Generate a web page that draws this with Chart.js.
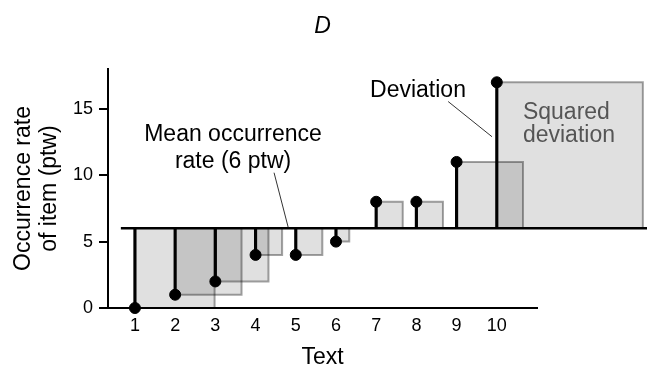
<!DOCTYPE html>
<html>
<head>
<meta charset="utf-8">
<script src="https://cdn.jsdelivr.net/npm/chart.js@4.4.0/dist/chart.umd.min.js"></script>
<style>
  html, body { margin: 0; padding: 0; background: #fff; }
</style>
</head>
<body>
<canvas id="chart" width="647" height="367"></canvas>
<script>
// Occurrence rate of one item in ten texts (ptw)
const texts = [1, 2, 3, 4, 5, 6, 7, 8, 9, 10];
const rates = [0, 1, 2, 4, 4, 5, 8, 8, 11, 17];
const meanRate = 6;
const yTicks = [0, 5, 10, 15];
// how far the mean line runs, in x units
const meanSpan = [0.65, 13.75];

const FONT = "'Liberation Sans', Arial, sans-serif";
Chart.defaults.font.family = FONT;
Chart.defaults.color = '#000';

// annotation texts, anchored in data units (first baseline)
const notes = [
    { lines: ['Mean occurrence', 'rate (6 ptw)'], x: 3.44, y: 12.55, gap: 26.6, align: 'center', color: '#000' },
    { lines: ['Deviation'], x: 8.04, y: 15.9, gap: 0, align: 'center', color: '#000' },
    { lines: ['Squared', 'deviation'], x: 10.65, y: 14.24, gap: 23.4, align: 'left', color: '#555' },
];
const leaders = [
    [[4.46, 10.19], [4.81, 6.1]],
    [[8.79, 15.55], [9.88, 12.9]],
];

/**
 * Squared deviations: a square hanging off the mean line at each text,
 * side = deviation measured in y pixels.
 */
const squaresPlugin = {
    id: 'squares',
    beforeDatasetsDraw(chart) {
        const { ctx, scales: { x, y } } = chart;
        const yMean = y.getPixelForValue(meanRate);
        ctx.save();
        texts.forEach((t, i) => {
            const x0 = x.getPixelForValue(t);
            const yv = y.getPixelForValue(rates[i]);
            const side = Math.abs(yMean - yv);
            if (!side) return;
            ctx.fillStyle = 'rgba(0, 0, 0, 0.12)';
            ctx.fillRect(x0, Math.min(yv, yMean), side, side);
            ctx.strokeStyle = 'rgba(0, 0, 0, 0.36)';
            ctx.lineWidth = 2;
            ctx.beginPath();
            ctx.moveTo(x0, yv);
            ctx.lineTo(x0 + side, yv);
            ctx.lineTo(x0 + side, yMean);
            ctx.stroke();
        });
        ctx.restore();
    },
};

/**
 * Labels and leader lines.
 */
const notesPlugin = {
    id: 'notes',
    afterDraw(chart) {
        const { ctx, scales: { x, y } } = chart;
        ctx.save();
        ctx.font = '23px ' + FONT;
        ctx.textBaseline = 'alphabetic';
        notes.forEach(n => {
            ctx.fillStyle = n.color;
            ctx.textAlign = n.align;
            const px = x.getPixelForValue(n.x);
            const py = y.getPixelForValue(n.y);
            n.lines.forEach((line, k) => ctx.fillText(line, px, py + k * n.gap));
        });
        ctx.strokeStyle = '#333';
        ctx.lineWidth = 1;
        leaders.forEach(([a, b]) => {
            ctx.beginPath();
            ctx.moveTo(x.getPixelForValue(a[0]), y.getPixelForValue(a[1]));
            ctx.lineTo(x.getPixelForValue(b[0]), y.getPixelForValue(b[1]));
            ctx.stroke();
        });
        ctx.restore();
    },
};

new Chart(document.getElementById('chart'), {
    type: 'scatter',
    data: {
        datasets: [
            {
                type: 'scatter',
                data: texts.map((t, i) => ({ x: t, y: rates[i] })),
                pointRadius: 5.5,
                pointHoverRadius: 5.5,
                backgroundColor: '#000',
                borderColor: '#000',
                clip: false,
                order: 0,
            },
            {
                type: 'bar',
                data: texts.map((t, i) => ({ x: t, y: [meanRate, rates[i]] })),
                backgroundColor: '#000',
                barThickness: 2.5,
                clip: false,
                order: 1,
            },
            {
                type: 'line',
                data: meanSpan.map(v => ({ x: v, y: meanRate })),
                borderColor: '#000',
                borderWidth: 2.5,
                pointRadius: 0,
                clip: false,
                order: 2,
            },
        ],
    },
    options: {
        responsive: false,
        animation: false,
        layout: { padding: { right: 110 } },
        plugins: {
            legend: { display: false },
            tooltip: { enabled: false },
            title: {
                display: true,
                fullSize: false,
                text: 'D',
                color: '#000',
                font: { size: 23, style: 'italic', weight: 'normal' },
                padding: { top: 13, bottom: 28.4 },
            },
        },
        scales: {
            x: {
                type: 'linear',
                min: 0.33,
                max: 11,
                offset: false,
                grid: { display: false, drawTicks: false, tickLength: 0 },
                border: { color: '#000', width: 2 },
                ticks: { font: { size: 18 }, padding: 7, color: '#000' },
                afterBuildTicks: s => { s.ticks = texts.map(v => ({ value: v })); },
                afterFit: s => { s.height = 59; },
                title: {
                    display: true,
                    text: 'Text',
                    color: '#000',
                    font: { size: 23, lineHeight: 0.8 },
                    padding: { top: 0, bottom: 0 },
                },
            },
            y: {
                type: 'linear',
                min: 0,
                max: 18,
                grid: { drawOnChartArea: false, color: '#000', lineWidth: 2, tickLength: 9 },
                border: { color: '#000', width: 2 },
                ticks: { font: { size: 18 }, padding: 6, color: '#000' },
                afterBuildTicks: s => { s.ticks = yTicks.map(v => ({ value: v })); },
                afterFit: s => { s.width = 108; },
                title: {
                    display: true,
                    text: ['Occurrence rate', 'of item (ptw)'],
                    color: '#000',
                    font: { size: 23, lineHeight: 1.13 },
                    padding: { top: 11, bottom: 0 },
                },
            },
        },
    },
    plugins: [squaresPlugin, notesPlugin],
});
</script>
</body>
</html>
